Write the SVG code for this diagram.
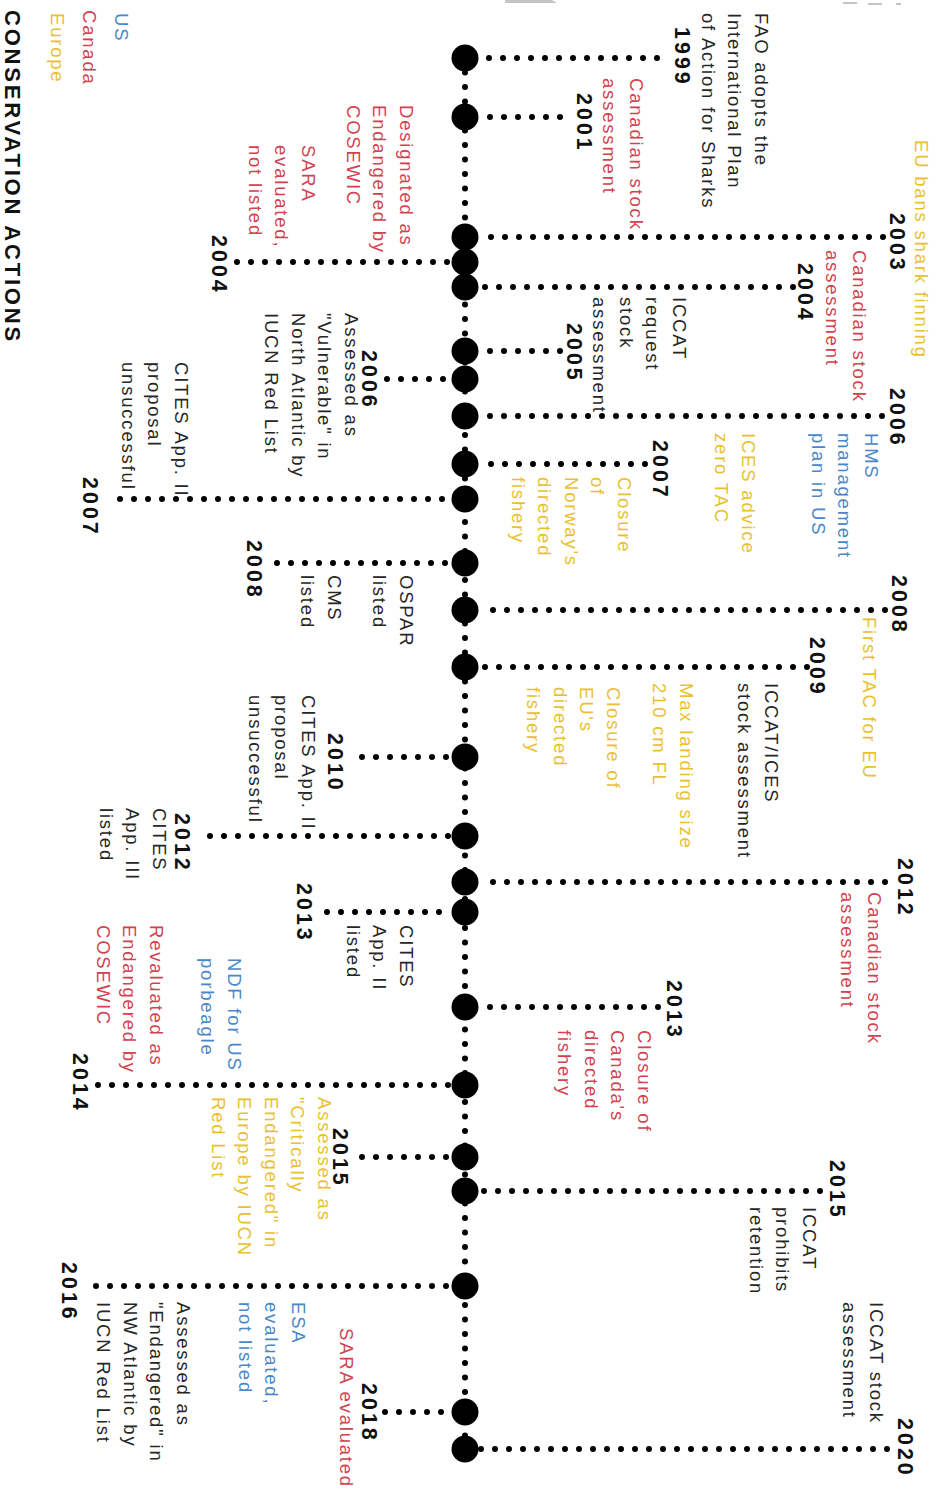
<svg xmlns="http://www.w3.org/2000/svg" width="937" height="1490" viewBox="0 0 937 1490">
<style>
text{font-family:"Liberation Sans",Arial,Helvetica,sans-serif;font-size:18.5px;letter-spacing:1.8px;fill:#262626}
.yr{font-weight:bold;font-size:21.5px;letter-spacing:3px;fill:#111}
.ttl{font-weight:bold;font-size:22px;letter-spacing:2.8px;fill:#111}
.r{fill:#d2424f}.b{fill:#4a87c8}.y{fill:#e9c12e}
.dot{fill:#000}
.con{stroke:#000;stroke-width:6;stroke-linecap:round;stroke-dasharray:0 14;fill:none}
.spine{stroke:#000;stroke-width:6;stroke-linecap:round;stroke-dasharray:0 14.5;fill:none}
</style>
<rect width="937" height="1490" fill="#fff"/>
<g id="artifacts" fill="#c4c4c4">
<path d="M505 0H552L557 3H505Z"/>
<rect x="843" y="2" width="14" height="2"/>
<rect x="868" y="3" width="14" height="2"/>
<rect x="896" y="3" width="5" height="2"/>
</g>
<g id="legend">
<text class="ttl" transform="translate(5,10) rotate(90)">CONSERVATION ACTIONS</text>
<text class="b" transform="translate(115,13) rotate(90)">US</text>
<text class="r" transform="translate(83,10) rotate(90)">Canada</text>
<text class="y" transform="translate(51,13) rotate(90)">Europe</text>
</g>
<g id="connectors">
<path class="spine" d="M465 58V1449"/>
<path class="con" d="M657 58H479M560 117H479M883 237H479M793 287H479M560 351H479M882 416H479M645 464H479M885 610H479M807 667H479M885 882H479M658 1007H479M820 1191H479M887 1449H479"/>
<path class="con" d="M237 262H451M387 379H451M120 499H451M277 563H451M362 757H451M210 836H451M327 912H451M98 1085H451M362 1157H451M96 1286H451M385 1412H451"/>
</g>
<g id="e1999"><circle class="dot" cx="465" cy="58" r="13.5"/>
<text class="yr" transform="translate(675,27) rotate(90)">1999</text>
<text transform="translate(755,13) rotate(90)"><tspan x="0">FAO adopts the</tspan><tspan x="0" dy="26.6">International Plan</tspan><tspan x="0" dy="26.6">of Action for Sharks</tspan></text></g>
<g id="e2001"><circle class="dot" cx="465" cy="117" r="13.5"/>
<text class="yr" transform="translate(577,93) rotate(90)">2001</text>
<text class="r" transform="translate(630,78) rotate(90)"><tspan x="0">Canadian stock</tspan><tspan x="0" dy="26.6">assessment</tspan></text></g>
<g id="e2003"><circle class="dot" cx="465" cy="237" r="13.5"/>
<text class="yr" transform="translate(890,213) rotate(90)">2003</text>
<text class="y" transform="translate(915,140) rotate(90)">EU bans shark finning</text></g>
<g id="e2004L"><circle class="dot" cx="465" cy="262" r="13.5"/>
<text class="yr" transform="translate(212,235) rotate(90)">2004</text>
<text class="r" transform="translate(400,105) rotate(90)"><tspan x="0">Designated as</tspan><tspan x="0" dy="26.6">Endangered by</tspan><tspan x="0" dy="26.6">COSEWIC</tspan></text>
<text class="r" transform="translate(302,145) rotate(90)"><tspan x="0">SARA</tspan><tspan x="0" dy="26.6">evaluated,</tspan><tspan x="0" dy="26.6">not listed</tspan></text></g>
<g id="e2004R"><circle class="dot" cx="465" cy="287" r="13.5"/>
<text class="yr" transform="translate(798,263) rotate(90)">2004</text>
<text class="r" transform="translate(853,250) rotate(90)"><tspan x="0">Canadian stock</tspan><tspan x="0" dy="26.6">assessment</tspan></text>
<text transform="translate(673,297) rotate(90)"><tspan x="0">ICCAT</tspan><tspan x="0" dy="26.6">request</tspan><tspan x="0" dy="26.6">stock</tspan><tspan x="0" dy="26.6">assessment</tspan></text></g>
<g id="e2005"><circle class="dot" cx="465" cy="351" r="13.5"/>
<text class="yr" transform="translate(567,323) rotate(90)">2005</text></g>
<g id="e2006L"><circle class="dot" cx="465" cy="379" r="13.5"/>
<text class="yr" transform="translate(362,350) rotate(90)">2006</text>
<text transform="translate(345,313) rotate(90)"><tspan x="0">Assessed as</tspan><tspan x="0" dy="26.6">"Vulnerable" in</tspan><tspan x="0" dy="26.6">North Atlantic by</tspan><tspan x="0" dy="26.6">IUCN Red List</tspan></text></g>
<g id="e2006R"><circle class="dot" cx="465" cy="416" r="13.5"/>
<text class="yr" transform="translate(890,388) rotate(90)">2006</text>
<text class="b" transform="translate(865,433) rotate(90)"><tspan x="0">HMS</tspan><tspan x="0" dy="26.6">management</tspan><tspan x="0" dy="26.6">plan in US</tspan></text>
<text class="y" transform="translate(742,433) rotate(90)"><tspan x="0">ICES advice</tspan><tspan x="0" dy="26.6">zero TAC</tspan></text></g>
<g id="e2007R"><circle class="dot" cx="465" cy="464" r="13.5"/>
<text class="yr" transform="translate(653,440) rotate(90)">2007</text>
<text class="y" transform="translate(618,477) rotate(90)"><tspan x="0">Closure</tspan><tspan x="0" dy="26.6">of</tspan><tspan x="0" dy="26.6">Norway's</tspan><tspan x="0" dy="26.6">directed</tspan><tspan x="0" dy="26.6">fishery</tspan></text></g>
<g id="e2007L"><circle class="dot" cx="465" cy="499" r="13.5"/>
<text class="yr" transform="translate(83,477) rotate(90)">2007</text>
<text transform="translate(175,362) rotate(90)"><tspan x="0">CITES App. II</tspan><tspan x="0" dy="26.6">proposal</tspan><tspan x="0" dy="26.6">unsuccessful</tspan></text></g>
<g id="e2008L"><circle class="dot" cx="465" cy="563" r="13.5"/>
<text class="yr" transform="translate(247,540) rotate(90)">2008</text>
<text transform="translate(400,575) rotate(90)"><tspan x="0">OSPAR</tspan><tspan x="0" dy="26.6">listed</tspan></text>
<text transform="translate(328,575) rotate(90)"><tspan x="0">CMS</tspan><tspan x="0" dy="26.6">listed</tspan></text></g>
<g id="e2008R"><circle class="dot" cx="465" cy="610" r="13.5"/>
<text class="yr" transform="translate(892,575) rotate(90)">2008</text>
<text class="y" transform="translate(863,617) rotate(90)">First TAC for EU</text></g>
<g id="e2009"><circle class="dot" cx="465" cy="667" r="13.5"/>
<text class="yr" transform="translate(810,637) rotate(90)">2009</text>
<text transform="translate(765,683) rotate(90)"><tspan x="0">ICCAT/ICES</tspan><tspan x="0" dy="26.6">stock assessment</tspan></text>
<text class="y" transform="translate(680,683) rotate(90)"><tspan x="0">Max landing size</tspan><tspan x="0" dy="26.6">210 cm FL</tspan></text>
<text class="y" transform="translate(607,687) rotate(90)"><tspan x="0">Closure of</tspan><tspan x="0" dy="26.6">EU's</tspan><tspan x="0" dy="26.6">directed</tspan><tspan x="0" dy="26.6">fishery</tspan></text></g>
<g id="e2010"><circle class="dot" cx="465" cy="757" r="13.5"/>
<text class="yr" transform="translate(328,733) rotate(90)">2010</text>
<text transform="translate(302,695) rotate(90)"><tspan x="0">CITES App. II</tspan><tspan x="0" dy="26.6">proposal</tspan><tspan x="0" dy="26.6">unsuccessful</tspan></text></g>
<g id="e2012L"><circle class="dot" cx="465" cy="836" r="13.5"/>
<text class="yr" transform="translate(175,813) rotate(90)">2012</text>
<text transform="translate(153,808) rotate(90)"><tspan x="0">CITES</tspan><tspan x="0" dy="26.6">App. III</tspan><tspan x="0" dy="26.6">listed</tspan></text></g>
<g id="e2012R"><circle class="dot" cx="465" cy="882" r="13.5"/>
<text class="yr" transform="translate(898,858) rotate(90)">2012</text>
<text class="r" transform="translate(868,892) rotate(90)"><tspan x="0">Canadian stock</tspan><tspan x="0" dy="26.6">assessment</tspan></text></g>
<g id="e2013L"><circle class="dot" cx="465" cy="912" r="13.5"/>
<text class="yr" transform="translate(297,883) rotate(90)">2013</text>
<text transform="translate(400,925) rotate(90)"><tspan x="0">CITES</tspan><tspan x="0" dy="26.6">App. II</tspan><tspan x="0" dy="26.6">listed</tspan></text></g>
<g id="e2013R"><circle class="dot" cx="465" cy="1007" r="13.5"/>
<text class="yr" transform="translate(667,980) rotate(90)">2013</text>
<text class="r" transform="translate(638,1030) rotate(90)"><tspan x="0">Closure of</tspan><tspan x="0" dy="26.6">Canada's</tspan><tspan x="0" dy="26.6">directed</tspan><tspan x="0" dy="26.6">fishery</tspan></text></g>
<g id="e2014"><circle class="dot" cx="465" cy="1085" r="13.5"/>
<text class="yr" transform="translate(73,1053) rotate(90)">2014</text>
<text class="b" transform="translate(228,958) rotate(90)"><tspan x="0">NDF for US</tspan><tspan x="0" dy="26.6">porbeagle</tspan></text>
<text class="r" transform="translate(150,925) rotate(90)"><tspan x="0">Revaluated as</tspan><tspan x="0" dy="26.6">Endangered by</tspan><tspan x="0" dy="26.6">COSEWIC</tspan></text></g>
<g id="e2015L"><circle class="dot" cx="465" cy="1157" r="13.5"/>
<text class="yr" transform="translate(333,1128) rotate(90)">2015</text>
<text class="y" transform="translate(318,1097) rotate(90)"><tspan x="0">Assessed as</tspan><tspan x="0" dy="26.6">"Critically</tspan><tspan x="0" dy="26.6">Endangered" in</tspan><tspan x="0" dy="26.6">Europe by IUCN</tspan><tspan x="0" dy="26.6">Red List</tspan></text></g>
<g id="e2015R"><circle class="dot" cx="465" cy="1191" r="13.5"/>
<text class="yr" transform="translate(830,1160) rotate(90)">2015</text>
<text transform="translate(803,1207) rotate(90)"><tspan x="0">ICCAT</tspan><tspan x="0" dy="26.6">prohibits</tspan><tspan x="0" dy="26.6">retention</tspan></text></g>
<g id="e2016"><circle class="dot" cx="465" cy="1286" r="13.5"/>
<text class="yr" transform="translate(62,1262) rotate(90)">2016</text>
<text class="b" transform="translate(292,1302) rotate(90)"><tspan x="0">ESA</tspan><tspan x="0" dy="26.6">evaluated,</tspan><tspan x="0" dy="26.6">not listed</tspan></text>
<text transform="translate(177,1302) rotate(90)"><tspan x="0">Assessed as</tspan><tspan x="0" dy="26.6">"Endangered" in</tspan><tspan x="0" dy="26.6">NW Atlantic by</tspan><tspan x="0" dy="26.6">IUCN Red List</tspan></text></g>
<g id="e2018"><circle class="dot" cx="465" cy="1412" r="13.5"/>
<text class="yr" transform="translate(362,1383) rotate(90)">2018</text>
<text class="r" transform="translate(340,1328) rotate(90)">SARA evaluated</text></g>
<g id="e2020"><circle class="dot" cx="465" cy="1449" r="13.5"/>
<text class="yr" transform="translate(898,1418) rotate(90)">2020</text>
<text transform="translate(870,1302) rotate(90)"><tspan x="0">ICCAT stock</tspan><tspan x="0" dy="26.6">assessment</tspan></text></g>
</svg>
